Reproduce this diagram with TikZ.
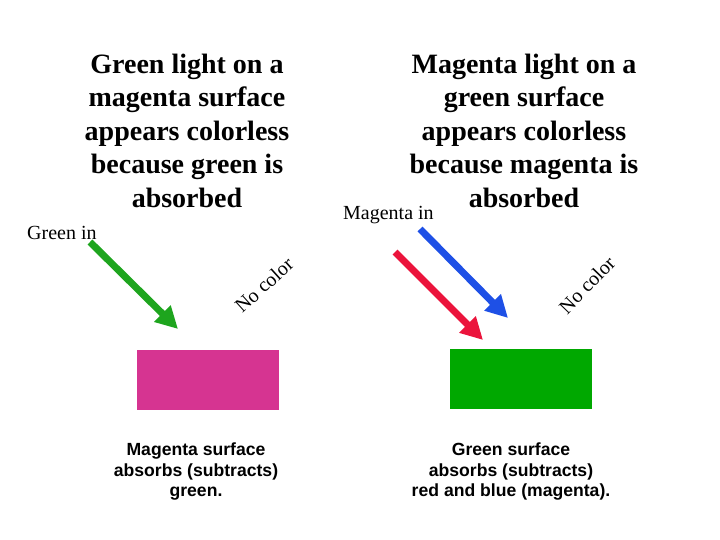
\documentclass[tikz,border=0pt]{standalone}
\usepackage{fontspec}
\setmainfont{Liberation Serif}
\setsansfont{Liberation Sans}
\usetikzlibrary{arrows.meta}
\definecolor{arrgreen}{RGB}{30,165,30}
\definecolor{arrred}{RGB}{235,20,60}
\definecolor{arrblue}{RGB}{30,80,230}
\definecolor{surfmag}{RGB}{214,52,145}
\definecolor{surfgreen}{RGB}{0,168,0}
\tikzset{
  title/.style={anchor=north, align=center, inner sep=0pt, font=\fontsize{28}{33.5}\selectfont\bfseries},
  caption/.style={anchor=north, align=center, inner sep=0pt, font=\sffamily\bfseries\fontsize{17.6}{20.5}\selectfont},
  lbl/.style={anchor=west, inner sep=0pt, font=\fontsize{20}{24}\selectfont},
  nocol/.style={inner sep=0pt, font=\fontsize{20}{24}\selectfont},
  ray/.style={line width=7pt, -{Triangle[length=22pt,width=22pt]}},
  surf/.style={draw=none, inner sep=0pt, minimum width=142pt, minimum height=60pt},
}
\begin{document}
\begin{tikzpicture}[x=1pt,y=-1pt]
\useasboundingbox (0,0) rectangle (720,540);
\node[title] (t1) at (187,53.5) {Green light on a\\magenta surface\\appears colorless\\because green is\\absorbed};
\node[title] (t2) at (524,53.5) {Magenta light on a\\green surface\\appears colorless\\because magenta is\\absorbed};
\node[lbl] (gin) at (27,233) {Green in};
\node[lbl] (min) at (343,215) {Magenta in};
\node[nocol, rotate=42] (nc1) at (264,285) {No color};
\node[nocol, rotate=46] (nc2) at (587,285) {No color};
\coordinate (gs) at (90,242);
\coordinate (ge) at (178,329);
\coordinate (rs) at (395,252);
\coordinate (re) at (483,340);
\coordinate (bs) at (420,229);
\coordinate (be) at (508,318);
\draw[ray, arrgreen] (gs) -- (ge);
\draw[ray, arrred] (rs) -- (re);
\draw[ray, arrblue] (bs) -- (be);
\node[surf, fill=surfmag] (s1) at (208,379.5) {};
\node[surf, fill=surfgreen] (s2) at (521,379) {};
\node[caption] (c1) at (196,443) {Magenta surface\\absorbs (subtracts)\\green.};
\node[caption] (c2) at (511,443) {Green surface\\absorbs (subtracts)\\red and blue (magenta).};
\end{tikzpicture}
\end{document}
